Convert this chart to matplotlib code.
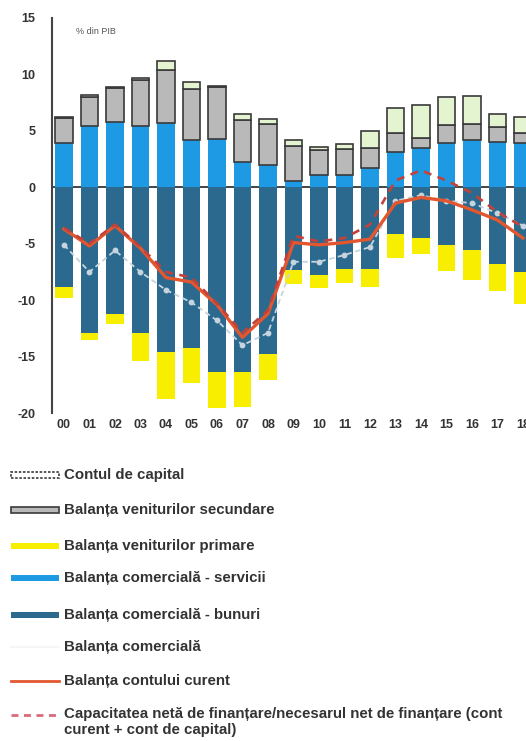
import matplotlib
matplotlib.use("Agg")
import matplotlib.pyplot as plt
from matplotlib.patches import Rectangle
from matplotlib.lines import Line2D
import numpy as np

plt.rcParams['font.family'] = ['Liberation Sans', 'DejaVu Sans']
plt.rcParams['axes.unicode_minus'] = False

# Balance of payments components, % of GDP
years = ["00", "01", "02", "03", "04", "05", "06", "07", "08", "09",
         "10", "11", "12", "13", "14", "15", "16", "17", "18"]
services = [3.9, 5.4, 5.8, 5.4, 5.7, 4.2, 4.3, 2.2, 1.95, 0.6,
            1.1, 1.1, 1.7, 3.1, 3.5, 3.9, 4.2, 4.0, 3.9]
secondary_income = [2.2, 2.6, 3.0, 4.1, 4.7, 4.5, 4.6, 3.8, 3.7, 3.1,
                    2.2, 2.3, 1.8, 1.7, 0.9, 1.6, 1.4, 1.3, 0.9]
capital_account = [0.1, 0.2, 0.1, 0.15, 0.8, 0.6, 0.1, 0.5, 0.4, 0.5,
                   0.3, 0.4, 1.5, 2.2, 2.9, 2.5, 2.5, 1.2, 1.4]
goods = [-8.85, -12.9, -11.2, -12.9, -14.6, -14.25, -16.4, -16.4, -14.8, -7.35,
         -7.8, -7.25, -7.2, -4.1, -4.5, -5.1, -5.6, -6.8, -7.5]
primary_income = [-0.95, -0.6, -0.9, -2.5, -4.2, -3.05, -3.2, -3.1, -2.3, -1.25,
                  -1.15, -1.25, -1.6, -2.2, -1.4, -2.3, -2.6, -2.4, -2.8]
trade_balance = [-5.1, -7.5, -5.6, -7.5, -9.1, -10.2, -11.8, -14.0, -12.9, -6.6,
                 -6.6, -6.0, -5.3, -1.2, -0.7, -1.2, -1.4, -2.3, -3.4]
current_account = [-3.7, -5.2, -3.4, -5.4, -8.0, -8.4, -10.4, -13.3, -11.2, -4.9,
                   -5.1, -4.9, -4.6, -1.4, -0.9, -1.2, -2.0, -2.9, -4.5]
net_lending = [-3.6, -5.0, -3.3, -5.3, -7.5, -8.0, -10.3, -12.9, -10.9, -4.3,
               -4.8, -4.5, -3.3, 0.6, 1.5, 0.6, -0.5, -2.2, -3.5]

labels = ["Contul de capital",
          "Balanța veniturilor secundare",
          "Balanța veniturilor primare",
          "Balanța comercială - servicii",
          "Balanța comercială - bunuri",
          "Balanța comercială",
          "Balanța contului curent",
          "Capacitatea netă de finanțare/necesarul net de finanțare (cont\ncurent + cont de capital)"]

c_cap = "#e4f4d0"
c_sec = "#b9b9b9"
c_prim = "#f7ee00"
c_serv = "#1d9ae3"
c_goods = "#2b6a8e"
c_trade = "#c6d4de"
c_ca = "#e2572f"
c_nl = "#c2413a"
c_edge = "#3a3a3a"
c_text = "#333333"

fig = plt.figure(figsize=(5.26, 7.41), dpi=100)
ax = fig.add_axes([52 / 526, 1 - 413 / 741, (526 - 52) / 526, (413 - 18) / 741])

x = np.arange(len(years))
w = 0.68
serv = np.array(services)
sec = np.array(secondary_income)
cap = np.array(capital_account)
gds = np.array(goods)
prim = np.array(primary_income)

ax.axhline(0, color="#444444", lw=1.4, zorder=1)
ax.bar(x, serv, w, color=c_serv, zorder=2)
ax.bar(x, sec, w, bottom=serv, color=c_sec, edgecolor=c_edge, lw=1.2, zorder=2)
ax.bar(x, cap, w, bottom=serv + sec, color=c_cap, edgecolor=c_edge, lw=1.2, zorder=2)
ax.bar(x, gds, w, color=c_goods, zorder=2)
ax.bar(x, prim, w, bottom=gds, color=c_prim, zorder=2)

ax.plot(x, trade_balance, color=c_trade, lw=1.3, ls=(0, (3, 2)),
        marker="o", ms=3.2, mfc=c_trade, mec=c_trade, zorder=3)
ax.plot(x, current_account, color=c_ca, lw=2.4, zorder=4)
ax.plot(x, net_lending, color=c_nl, lw=1.9, ls=(0, (3, 2.5)), zorder=5)

ax.set_xlim(-0.47, 18.12)
ax.set_ylim(-20, 15)
ax.set_yticks([15, 10, 5, 0, -5, -10, -15, -20])
ax.set_xticks(x)
ax.set_xticklabels(years)
ax.tick_params(axis="both", length=0, labelsize=9, colors=c_text)
ax.tick_params(axis="y", pad=12)
ax.tick_params(axis="x", pad=4)
for t in ax.get_xticklabels() + ax.get_yticklabels():
    t.set_fontweight("bold")
for s in ["top", "right", "bottom"]:
    ax.spines[s].set_visible(False)
ax.spines["left"].set_color("#444444")
ax.spines["left"].set_linewidth(1.5)

ax.text(0.05, 0.965, "% din PIB", transform=ax.transAxes, fontsize=6.5,
        color="#555555", va="center", ha="left")

# Legend drawn below the plot
W, H = 526.0, 741.0
rows = [475, 510, 546, 578, 615, 647, 681, 715]
hx0, hx1 = 11, 59
tx = 64


def fx(px):
    return px / W


def fy(py):
    return 1 - py / H


def rect(yc, face, edge=None, ls="-", h=6.5):
    r = Rectangle((fx(hx0), fy(yc + h / 2)), fx(hx1) - fx(hx0), h / H,
                  facecolor=face, edgecolor=edge if edge else face,
                  lw=1.2 if edge else 0, ls=ls, transform=fig.transFigure)
    fig.add_artist(r)


rect(rows[0], "white", c_edge, ls=(0, (1.5, 1)))
rect(rows[1], c_sec, c_edge)
rect(rows[2], c_prim)
rect(rows[3], c_serv)
rect(rows[4], c_goods)
fig.add_artist(Line2D([fx(hx0), fx(hx1)], [fy(rows[5])] * 2, color="#f4f6f8",
                      lw=1.5, transform=fig.transFigure))
fig.add_artist(Line2D([fx(hx0), fx(hx1)], [fy(rows[6])] * 2, color=c_ca,
                      lw=2.0, transform=fig.transFigure))
fig.add_artist(Line2D([fx(hx0), fx(hx1)], [fy(rows[7])] * 2, color="#d96a7a",
                      lw=2.0, ls=(0, (2.5, 2)), transform=fig.transFigure))

for yc, lab in zip(rows, labels):
    if "\n" in lab:
        fig.text(fx(tx), fy(yc - 8), lab, fontsize=10.8, fontweight="bold",
                 color=c_text, va="top", ha="left", linespacing=1.2)
    else:
        fig.text(fx(tx), fy(yc), lab, fontsize=10.8, fontweight="bold",
                 color=c_text, va="center", ha="left")

fig.savefig("out.png", dpi=100)
